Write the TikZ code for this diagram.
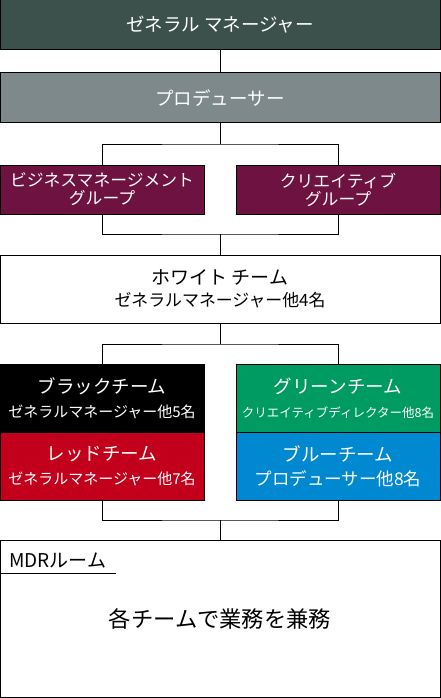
\documentclass[tikz,border=0pt]{standalone}
\usepackage{fontspec}
\setmainfont{Noto Sans CJK JP}
\usetikzlibrary{positioning,calc}
\definecolor{mdrSlate}{HTML}{3C504C}
\definecolor{mdrSteel}{HTML}{7E898B}
\definecolor{mdrWine}{HTML}{6E1341}
\definecolor{mdrRed}{HTML}{C3001B}
\definecolor{mdrGreen}{HTML}{009A63}
\definecolor{mdrBlue}{HTML}{0089D0}
\tikzset{
  unit/.style={draw=black, line width=1pt, align=center, inner sep=0pt,
              text=white, minimum width=440pt},
  head/.style={unit, minimum height=50pt, font=\fontsize{18.5}{20}\selectfont},
  grp/.style={unit, fill=mdrWine, minimum width=204pt, minimum height=49pt,
              font=\fontsize{16.8}{18}\selectfont},
  team/.style={unit, minimum width=204pt, minimum height=68pt,
              font=\fontsize{15}{24}\selectfont},
  wide/.style={unit, fill=white, text=black},
  link/.style={draw=black, line width=1pt},
}
\newcommand{\ttl}[1]{{\fontsize{18.5}{24}\selectfont #1}}

\begin{document}
\begin{tikzpicture}[x=1pt,y=-1pt]
        \useasboundingbox (0,0) rectangle (440,698);
        % top of the chart
        \node[head,fill=mdrSlate] (gm) at (220,25) {ゼネラル マネージャー};
        \node[head,fill=mdrSteel] (pr) at (220,98) {プロデューサー};
        \node[grp] (bg) at (102,189.5) {ビジネスマネージメント\\グループ};
        \node[grp] (cg) at (338,189.5) {クリエイティブ\\グループ};
        \node[wide,minimum height=68pt,font=\fontsize{16.9}{22}\selectfont] (wt) at (220,289)
          {{\fontsize{19}{22}\selectfont ホワイト チーム}\\ゼネラルマネージャー他4名};
        % four teams
        \node[team,fill=black] (bk) at (102,398) {\ttl{ブラックチーム}\\ゼネラルマネージャー他5名};
        \node[team,fill=mdrRed] (rd) at (102,466) {\ttl{レッドチーム}\\ゼネラルマネージャー他7名};
        \node[team,fill=mdrGreen] (gr) at (338,398)
          {\ttl{グリーンチーム}\\{\fontsize{12.5}{24}\selectfont クリエイティブディレクター他8名}};
        \node[team,fill=mdrBlue] (bl) at (338,466) {\ttl{ブルーチーム}\\{\fontsize{17.5}{24}\selectfont プロデューサー他8名}};
        % room
        \node[wide,minimum height=157pt,font=\fontsize{22.3}{24}\selectfont] (room) at (220,618.5)
          {各チームで業務を兼務};
        \node[anchor=base west,inner sep=0pt,text=black,font=\fontsize{19}{20}\selectfont] (tag) at (9,567) {MDRルーム};
        \coordinate (tagrule) at (0,573);
        \draw[link] (tagrule) -- ($(tagrule -| tag.east)+(10,0)$);
        % connectors
        \coordinate (j1) at (220,144);
        \coordinate (j2) at (220,234);
        \coordinate (j3) at (220,344);
        \coordinate (j4) at (220,520);
        \draw[link] (gm.south) -- (pr.north);
        \draw[link] (pr.south) -- (j1);
        \draw[link] (bg.north) |- (j1) -| (cg.north);
        \draw[link] (bg.south) |- (j2) -| (cg.south);
        \draw[link] (j2) -- (wt.north);
        \draw[link] (wt.south) -- (j3);
        \draw[link] (bk.north) |- (j3) -| (gr.north);
        \draw[link] (rd.south) |- (j4) -| (bl.south);
        \draw[link] (j4) -- (room.north);
      \end{tikzpicture}
\end{document}
